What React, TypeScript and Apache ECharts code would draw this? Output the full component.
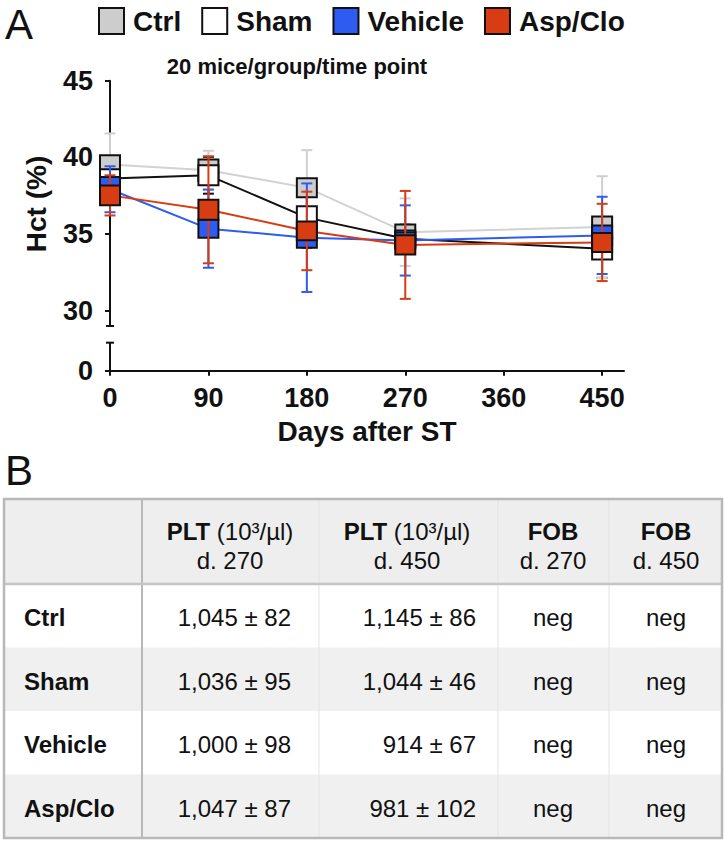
import React, { useEffect, useRef } from "react";
import * as echarts from "echarts";

// ---------- Data ----------
const days = [0, 90, 180, 270, 450];
const groups = ["Ctrl", "Sham", "Vehicle", "Asp/Clo"];

const ctrlMean = [39.53, 39.16, 38.02, 35.12, 35.45];
const ctrlBox = [0.61, 0.7, 0.62, 0.5, 0.7];
const ctrlSD = [2.03, 1.27, 2.45, 2.2, 3.32];

const shamMean = [38.62, 38.83, 36.07, 34.69, 34.04];
const shamBox = [0.61, 0.65, 0.74, 0.54, 0.7];
const shamSD = [1.31, 1.2, 1.96, 0.92, 1.9];

const vehMean = [37.92, 35.35, 34.76, 34.58, 34.91];
const vehBox = [0.8, 0.59, 0.65, 0.54, 0.65];
const vehSD = [1.5, 2.55, 3.54, 2.29, 2.52];

const aspMean = [37.52, 36.58, 35.2, 34.29, 34.45];
const aspBox = [0.65, 0.65, 0.61, 0.63, 0.62];
const aspSD = [1.31, 3.49, 2.56, 3.52, 2.52];

const yTickValues = [30, 35, 40, 45];
const yLowTickValues = [0];

const chartTitle = "20 mice/group/time point";
const yAxisTitle = "Hct (%)";
const xAxisTitle = "Days after ST";

// table
const headerMain = ["PLT", "PLT", "FOB", "FOB"];
const headerUnit = [" (10³/µl)", " (10³/µl)", "", ""];
const headerDay = ["d. 270", "d. 450", "d. 270", "d. 450"];
const plt270Mean = [1045, 1036, 1000, 1047];
const plt270SD = [82, 95, 98, 87];
const plt450Mean = [1145, 1044, 914, 981];
const plt450SD = [86, 46, 67, 102];
const fob270 = ["neg", "neg", "neg", "neg"];
const fob450 = ["neg", "neg", "neg", "neg"];

// ---------- Styles ----------
const FONT = "'Liberation Sans', Arial, Helvetica, sans-serif";
const INK = "#111111";
const fills = ["#cdcdcd", "#ffffff", "#2e5cf2", "#d83c12"];
const lineColors = ["#d2d2d2", "#111111", "#2e5cf2", "#d83c12"];
const whiskerColors = ["#cfcfcf", "#111111", "#2e5cf2", "#d83c12"];
const BOX_W = 20;
const CAP = 5.5;

const groupSets = [
  { mean: ctrlMean, box: ctrlBox, sd: ctrlSD },
  { mean: shamMean, box: shamBox, sd: shamSD },
  { mean: vehMean, box: vehBox, sd: vehSD },
  { mean: aspMean, box: aspBox, sd: aspSD },
];

const fmt = (n: number) => n.toLocaleString("en-US");

function buildSeries() {
  const series: any[] = [];
  let z = 2;
  groupSets.forEach((g, i) => {
    series.push({
      type: "line",
      name: groups[i] + " line",
      xAxisIndex: 0,
      yAxisIndex: 0,
      data: days.map((d, k) => [d, g.mean[k]]),
      symbol: "none",
      silent: true,
      lineStyle: { color: lineColors[i], width: 2 },
      z: z++,
    });
  });
  const data = (i: number) =>
    days.map((d, k) => [d, groupSets[i].mean[k], groupSets[i].box[k], groupSets[i].sd[k]]);
  const whisker = (i: number) => ({
    type: "custom",
    name: groups[i] + " SD",
    xAxisIndex: 0,
    yAxisIndex: 0,
    silent: true,
    z: z++,
    encode: { x: 0, y: 1 },
    data: data(i),
    renderItem: (params: any, api: any) => {
      const x = api.value(0);
      const m = api.value(1);
      const sd = api.value(3);
      const p1 = api.coord([x, m + sd]);
      const p2 = api.coord([x, m - sd]);
      const st = { stroke: whiskerColors[i], lineWidth: 2 };
      return {
        type: "group",
        children: [
          { type: "line", shape: { x1: p1[0], y1: p1[1], x2: p2[0], y2: p2[1] }, style: st },
          { type: "line", shape: { x1: p1[0] - CAP, y1: p1[1], x2: p1[0] + CAP, y2: p1[1] }, style: st },
          { type: "line", shape: { x1: p2[0] - CAP, y1: p2[1], x2: p2[0] + CAP, y2: p2[1] }, style: st },
        ],
      };
    },
  });
  const box = (i: number) => ({
    type: "custom",
    name: groups[i],
    xAxisIndex: 0,
    yAxisIndex: 0,
    silent: true,
    z: z++,
    encode: { x: 0, y: 1 },
    itemStyle: { color: fills[i], borderColor: INK, borderWidth: 2 },
    data: data(i),
    renderItem: (params: any, api: any) => {
      const x = api.value(0);
      const m = api.value(1);
      const b = api.value(2);
      const top = api.coord([x, m + b]);
      const bot = api.coord([x, m - b]);
      return {
        type: "rect",
        shape: { x: top[0] - BOX_W / 2, y: top[1], width: BOX_W, height: bot[1] - top[1] },
        style: { fill: fills[i], stroke: INK, lineWidth: 2 },
      };
    },
  });
  // drawing order
  series.push(whisker(1));
  series.push(whisker(0));
  series.push(box(0));
  series.push(box(1));
  series.push(whisker(2));
  series.push(box(2));
  series.push(whisker(3));
  series.push(box(3));
  return series;
}

function buildTableGraphic() {
  const L = 4, R = 722, T = 499, HB = 584, RH = 63.5;
  const B = HB + RH * groups.length;
  const colEdges = [L, 142, 319, 498, 609, R];
  const colCenters = [230, 407, 553, 666];
  const els: any[] = [];
  els.push({ type: "rect", shape: { x: L, y: T, width: R - L, height: B - T }, style: { fill: "#ffffff" } });
  els.push({ type: "rect", shape: { x: L, y: T, width: R - L, height: HB - T }, style: { fill: "#eeeeee" } });
  groups.forEach((g, i) => {
    if (i % 2 === 1) {
      els.push({ type: "rect", shape: { x: L, y: HB + RH * i, width: R - L, height: RH }, style: { fill: "#f0f0f0" } });
    }
  });
  [2, 3, 4].forEach((c) => {
    els.push({ type: "line", shape: { x1: colEdges[c], y1: T, x2: colEdges[c], y2: B }, style: { stroke: "#e3e3e3", lineWidth: 1 } });
  });
  els.push({ type: "line", shape: { x1: colEdges[1], y1: T, x2: colEdges[1], y2: B }, style: { stroke: "#b8b8b8", lineWidth: 2 } });
  els.push({ type: "line", shape: { x1: L, y1: HB, x2: R, y2: HB }, style: { stroke: "#c4c4c4", lineWidth: 2.5 } });
  els.push({ type: "rect", shape: { x: L, y: T, width: R - L, height: B - T }, style: { fill: "none", stroke: "#b8b8b8", lineWidth: 2.5 } });
  // header texts
  headerMain.forEach((h, c) => {
    els.push({
      type: "text",
      x: colCenters[c],
      y: 531,
      style: {
        text: "{b|" + h + "}" + headerUnit[c],
        rich: { b: { fontWeight: "bold", fontSize: 24, fontFamily: FONT, fill: INK } },
        fontSize: 24,
        fontFamily: FONT,
        fill: INK,
        align: "center",
        verticalAlign: "middle",
      },
    });
    els.push({
      type: "text",
      x: colCenters[c],
      y: 560,
      style: { text: headerDay[c], fontSize: 24, fontFamily: FONT, fill: INK, align: "center", verticalAlign: "middle" },
    });
  });
  groups.forEach((g, i) => {
    const cy = HB + RH * (i + 0.5) + 2;
    const base = { fontSize: 24, fontFamily: FONT, fill: INK, verticalAlign: "middle" };
    els.push({ type: "text", x: 24, y: cy, style: { ...base, text: g, fontWeight: "bold", align: "left" } });
    els.push({ type: "text", x: 291, y: cy, style: { ...base, text: fmt(plt270Mean[i]) + " ± " + plt270SD[i], align: "right" } });
    els.push({ type: "text", x: 476, y: cy, style: { ...base, text: fmt(plt450Mean[i]) + " ± " + plt450SD[i], align: "right" } });
    els.push({ type: "text", x: colCenters[2], y: cy, style: { ...base, text: fob270[i], align: "center" } });
    els.push({ type: "text", x: colCenters[3], y: cy, style: { ...base, text: fob450[i], align: "center" } });
  });
  return els;
}

export default function App() {
  const ref = useRef<HTMLDivElement>(null);
  useEffect(() => {
    if (!ref.current) return;
    const chart = echarts.init(ref.current, undefined, { renderer: "svg" });
    const option: any = {
      animation: false,
      backgroundColor: "#ffffff",
      textStyle: { fontFamily: FONT },
      legend: {
        left: 98,
        top: 7,
        padding: 0,
        itemWidth: 25,
        itemHeight: 26,
        itemGap: 20,
        selectedMode: false,
        icon: "rect",
        textStyle: { fontSize: 28, fontWeight: "bold", color: INK, fontFamily: FONT, padding: [0, 0, 0, 4] },
        data: groups.map((g, i) => ({
          name: g,
          itemStyle: { color: fills[i], borderColor: INK, borderWidth: 2 },
        })),
      },
      grid: [
        { left: 110, top: 80.7, width: 514, height: 245.3, containLabel: false },
        { left: 110, top: 342.7, width: 514, height: 28, containLabel: false },
      ],
      xAxis: [
        { type: "value", gridIndex: 0, min: 0, max: 470, show: false },
        {
          type: "value",
          gridIndex: 1,
          min: 0,
          max: 470,
          interval: 90,
          axisLine: { show: true, lineStyle: { color: INK, width: 2 } },
          axisTick: { show: true, length: 5, lineStyle: { color: INK, width: 2 } },
          axisLabel: { fontSize: 27, fontWeight: "bold", color: INK, margin: 14, fontFamily: FONT, showMaxLabel: false },
          splitLine: { show: false },
          name: xAxisTitle,
          nameLocation: "middle",
          nameGap: 47,
          nameTextStyle: { fontSize: 28, fontWeight: "bold", color: INK, fontFamily: FONT },
        },
      ],
      yAxis: [
        {
          type: "value",
          gridIndex: 0,
          min: 29,
          max: 45,
          interval: 1,
          axisLine: { show: true, lineStyle: { color: INK, width: 2 } },
          axisTick: { show: true, length: 5, lineStyle: { color: INK, width: 2 }, customValues: yTickValues },
          axisLabel: { customValues: yTickValues, fontSize: 27, fontWeight: "bold", color: INK, margin: 17, fontFamily: FONT },
          splitLine: { show: false },
        },
        {
          type: "value",
          gridIndex: 1,
          min: 0,
          max: 2,
          interval: 1,
          axisLine: { show: true, lineStyle: { color: INK, width: 2 } },
          axisTick: { show: true, length: 5, lineStyle: { color: INK, width: 2 }, customValues: yLowTickValues },
          axisLabel: { customValues: yLowTickValues, fontSize: 27, fontWeight: "bold", color: INK, margin: 17, fontFamily: FONT },
          splitLine: { show: false },
        },
      ],
      series: buildSeries(),
    };
    chart.setOption(option);

    const upCap = chart.convertToPixel({ gridIndex: 0 }, [0, 29]) as number[];
    const lowCap = chart.convertToPixel({ gridIndex: 1 }, [0, 2]) as number[];
    const capStyle = { stroke: INK, lineWidth: 2 };
    const graphic: any[] = [
      { type: "text", x: 5, y: 24, style: { text: "A", fontSize: 42, lineHeight: 42, fontFamily: FONT, fill: INK, verticalAlign: "middle" } },
      { type: "text", x: 5, y: 470, style: { text: "B", fontSize: 42, lineHeight: 42, fontFamily: FONT, fill: INK, verticalAlign: "middle" } },
      {
        type: "text",
        x: 297,
        y: 66,
        style: { text: chartTitle, fontSize: 22, fontWeight: "bold", fontFamily: FONT, fill: INK, align: "center", verticalAlign: "middle" },
      },
      {
        type: "text",
        x: 36,
        y: 204,
        rotation: Math.PI / 2,
        style: { text: yAxisTitle, fontSize: 28, fontWeight: "bold", fontFamily: FONT, fill: INK, align: "center", verticalAlign: "middle" },
      },
      { type: "line", shape: { x1: upCap[0] - 4, y1: upCap[1], x2: upCap[0] + 4, y2: upCap[1] }, style: capStyle },
      { type: "line", shape: { x1: lowCap[0] - 4, y1: lowCap[1], x2: lowCap[0] + 4, y2: lowCap[1] }, style: capStyle },
      ...buildTableGraphic(),
    ];
    chart.setOption({ graphic });
    return () => chart.dispose();
  }, []);
  return (
    <div
      ref={ref}
      style={{ position: "fixed", left: 0, top: 0, width: 725, height: 843, background: "#fff" }}
    />
  );
}
